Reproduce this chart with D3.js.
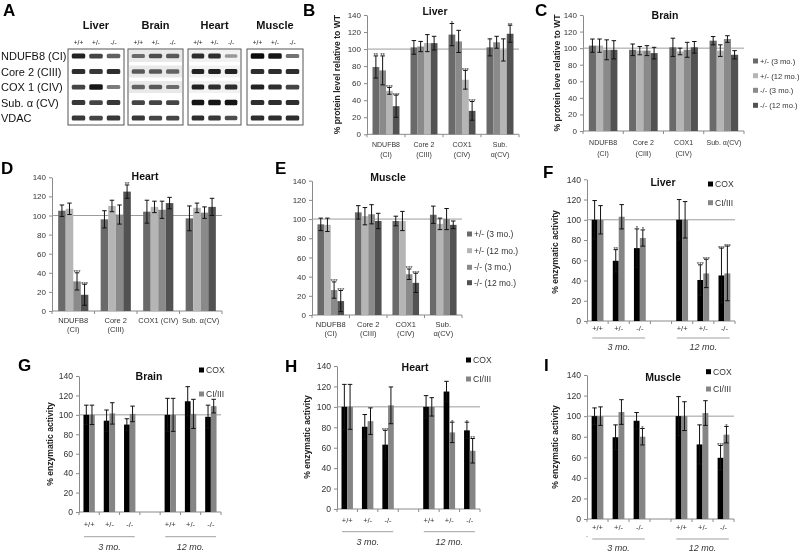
<!DOCTYPE html>
<html><head><meta charset="utf-8">
<script src="https://cdn.jsdelivr.net/npm/d3@7"></script>
<style>
body{margin:0;background:#fff}
svg{display:block;opacity:0.995}
text{font-family:"Liberation Sans",Arial,Helvetica,sans-serif}
</style>
</head><body>
<svg id="c" width="800" height="552"></svg>
<script>
// ---------------- DATA ----------------
const blotTissues = ["Liver", "Brain", "Heart", "Muscle"];
const blotGenotypes = ["+/+", "+/-", "-/-"];
const blotRows = ["NDUFB8 (CI)", "Core 2 (CIII)", "COX 1 (CIV)", "Sub. α (CV)", "VDAC"];
// band darkness per row per lane (0..1)
const blotLiver  = [[0.9,0.75,0.6],[0.85,0.8,0.85],[0.75,0.95,0.45],[0.8,0.75,0.8],[0.8,0.75,0.8]];
const blotBrain  = [[0.55,0.7,0.65],[0.65,0.65,0.6],[0.6,0.65,0.55],[0.75,0.75,0.75],[0.8,0.75,0.75]];
const blotHeart  = [[0.85,0.85,0.3],[0.9,0.9,0.9],[0.9,0.85,0.85],[0.95,0.95,0.95],[0.85,0.8,0.7]];
const blotMuscle = [[1.0,0.95,0.5],[0.85,0.85,0.85],[0.9,0.85,0.75],[0.85,0.85,0.85],[0.85,0.85,0.85]];

const yTicks = [0, 20, 40, 60, 80, 100, 120, 140];
const proteinSeries = ["+/- (3 mo.)", "+/- (12 mo.)", "-/- (3 mo.)", "-/- (12 mo.)"];

// B – Liver protein
const liverCats = [["NDUFB8","(CI)"],["Core 2","(CIII)"],["COX1","(CIV)"],["Sub.","α(CV)"]];
const liverProtein    = [[79,75,51,33],[102,103,107,107],[117,109,64,27.5],[102,108,99,118]];
const liverProteinErr = [[13,17,4,13],[8,6,10,8],[13,13,11,11],[10,7,13,10]];
const liverProteinSig = [["**","**","***","***"],["","","",""],["*","","***","***"],["","","","**"]];
// C – Brain protein
const brainCats = [["NDUFB8","(CI)"],["Core 2","(CIII)"],["COX1","(CIV)"],["Sub. α(CV)"]];
const brainProtein    = [[103,103,98,98],[98,97,97,94],[101,96,98,101],[109,97,111,92]];
const brainProteinErr = [[8,8,12,11],[7,5,6,7],[11,4,9,7],[5,7,4,5]];
// D – Heart protein
const heartCats = [["NDUFB8","(CI)"],["Core 2","(CIII)"],["COX1 (CIV)"],["Sub. α(CV)"]];
const heartProtein    = [[105,107,31,17],[96,110,101,125],[104,109,106,113],[97,108,103,109]];
const heartProteinErr = [[6,6,9,11],[9,6,10,7],[12,6,9,6],[13,5,6,9]];
const heartProteinSig = [["","","***","***"],["","","","**"],["","","",""],["","","",""]];
// E – Muscle protein
const muscleCats = [["NDUFB8","(CI)"],["Core 2","(CIII)"],["COX1","(CIV)"],["Sub.","α(CV)"]];
const muscleProtein    = [[94.5,94,26,14.5],[107,103,105,98],[98,98,42.5,33.5],[104.5,95,100,94]];
const muscleProteinErr = [[6.5,7,8.5,11],[7,9,10,8],[5,10,5.5,10],[9,6,11,4]];
const muscleProteinSig = [["","","***","***"],["","","",""],["","","***","***"],["","","",""]];

// F–I enzymatic activity
const activityGenotypes = ["+/+", "+/-", "-/-"];
const activityAges = ["3 mo.", "12 mo."];
const activitySeries = ["COX", "CI/III"];
// order: 3mo +/+, +/-, -/-, 12mo +/+, +/-, -/-
const liverCOX = [100, 59.5, 72, 100, 40.5, 45];
const liverCOXErr = [19, 11, 19, 20, 15, 27];
const liverCOXSig = ["", "**", "*", "", "***", "***"];
const liverCI = [100, 103, 82, 100, 47, 47];
const liverCIErr = [14, 12, 8, 18, 14, 27];
const liverCISig = ["", "", "*", "", "***", "***"];

const brainCOX = [100, 94, 90, 100, 114, 98];
const brainCOXErr = [10, 11, 6, 17, 15, 12];
const brainCI = [100, 101.5, 101, 100, 101, 109];
const brainCIErr = [10, 11, 8, 17, 15, 7];

const heartCOX = [100, 80.5, 63, 100, 115, 77];
const heartCOXErr = [22, 12, 14, 11, 10, 8];
const heartCOXSig = ["", "", "***", "", "", "*"];
const heartCI = [100, 86, 101.5, 100, 75, 57];
const heartCIErr = [22, 13, 18, 9, 10, 12];
const heartCISig = ["", "", "", "", "*", "**"];

const muscleCOX = [100, 79.5, 95.5, 100, 72.5, 59.5];
const muscleCOXErr = [8, 12, 8, 19, 19, 12];
const muscleCOXSig = ["", "", "", "", "", "***"];
const muscleCI = [100, 104, 80, 100, 103, 82];
const muscleCIErr = [9, 12, 8, 14, 12, 8];
const muscleCISig = ["", "", "*", "", "", "*"];

// ---------------- DRAWING ----------------
const svg = d3.select("#c");
const TXT = "#333";
const AXIS = "#8a8a8a";
const proteinColors = ["#6a6a6a", "#b5b5b5", "#8a8a8a", "#525252"];
const activityColors = ["#000000", "#858585"];

function letter(x, y, t) {
  svg.append("text").attr("x", x).attr("y", y).attr("font-size", 17)
    .attr("font-weight", "bold").attr("fill", "#000").text(t);
}

// ----- Panel A: western blots -----
(function () {
  const blots = [blotLiver, blotBrain, blotHeart, blotMuscle];
  const boxes = [[68,124],[128,183],[188,241],[247,303]];
  const rowBg = [null, "#e9e9e9", "#f2f2f2", null];
  const top = 49, bot = 125;
  const defs = svg.append("defs");
  defs.append("filter").attr("id", "blur").attr("x", "-30%").attr("y", "-80%").attr("width", "160%").attr("height", "260%")
    .append("feGaussianBlur").attr("stdDeviation", 0.7);
  const yRow = d3.scalePoint().domain(d3.range(blotRows.length)).range([56, 118]);
  const g = svg.append("g");
  blotRows.forEach((r, i) => {
    g.append("text").attr("x", 1).attr("y", yRow(i) + 4).attr("font-size", 11).attr("fill", "#111").text(r);
  });
  blotTissues.forEach((t, ti) => {
    const [x0, x1] = boxes[ti];
    const lx = d3.scaleBand().domain(d3.range(3)).range([x0, x1]).paddingOuter(0.1);
    g.append("text").attr("x", (x0 + x1) / 2).attr("y", 29).attr("text-anchor", "middle")
      .attr("font-size", 11).attr("font-weight", "bold").attr("fill", "#111").text(t);
    blotGenotypes.forEach((gt, li) => {
      g.append("text").attr("x", lx(li) + lx.bandwidth() / 2).attr("y", 44.5).attr("text-anchor", "middle")
        .attr("font-size", 6.5).attr("fill", "#222").text(gt);
    });
    g.append("rect").attr("x", x0).attr("y", top).attr("width", x1 - x0).attr("height", bot - top).attr("fill", "#fff");
    if (rowBg[ti]) {
      [0, 1, 2].forEach(ri => g.append("rect").attr("x", x0 + 1).attr("y", yRow(ri) - 6)
        .attr("width", x1 - x0 - 2).attr("height", 12).attr("fill", rowBg[ti]));
    }
    blots[ti].forEach((row, ri) => {
      row.forEach((v, li) => {
        const h = 2.5 + 3 * v;
        g.append("rect").attr("x", lx(li) + 2).attr("y", yRow(ri) - h / 2)
          .attr("width", lx.bandwidth() - 4).attr("height", h).attr("rx", 1.5)
          .attr("fill", d3.interpolateGreys(0.3 + 0.65 * v)).attr("filter", "url(#blur)");
      });
    });
    g.append("rect").attr("x", x0).attr("y", top).attr("width", x1 - x0).attr("height", bot - top)
      .attr("fill", "none").attr("stroke", "#555").attr("stroke-width", 1);
  });
  letter(3, 16, "A");
})();

function yAxis(g, y, x0, font) {
  const ax = g.append("g").attr("transform", `translate(${x0},0)`)
    .call(d3.axisLeft(y).tickValues(yTicks).tickSize(3).tickSizeOuter(0).tickPadding(3));
  ax.select(".domain").attr("stroke", AXIS);
  ax.selectAll(".tick line").attr("stroke", AXIS);
  ax.selectAll(".tick text").attr("font-size", font).attr("fill", TXT)
    .attr("font-family", "'Liberation Sans', Arial, sans-serif");
}

function errBar(g, cx, y, v, e, cap) {
  g.append("line").attr("x1", cx).attr("x2", cx).attr("y1", y(v - e)).attr("y2", y(v + e))
    .attr("stroke", "#111").attr("stroke-width", 1);
  [v - e, v + e].forEach(w => g.append("line").attr("x1", cx - cap / 2).attr("x2", cx + cap / 2)
    .attr("y1", y(w)).attr("y2", y(w)).attr("stroke", "#111").attr("stroke-width", 1));
}

function stars(g, cx, yy, s) {
  if (!s) return;
  g.append("text").attr("x", cx).attr("y", yy + 1.5).attr("text-anchor", "middle")
    .attr("font-size", 6).attr("fill", "#222").text(s);
}

function titleText(g, x, y, t) {
  g.append("text").attr("x", x).attr("y", y + 4).attr("text-anchor", "middle")
    .attr("font-size", 10.5).attr("font-weight", "bold").attr("fill", "#111").text(t);
}

function yLabel(g, x, cy, t) {
  g.append("text").attr("transform", `translate(${x},${cy}) rotate(-90)`).attr("text-anchor", "middle")
    .attr("dy", "0.35em").attr("font-size", 8.6).attr("font-weight", "bold").attr("fill", "#222").text(t);
}

function legend(g, lx, rows, labels, colors, font) {
  labels.forEach((l, i) => {
    g.append("rect").attr("x", lx).attr("y", rows[i] - 2.5).attr("width", 5).attr("height", 5).attr("fill", colors[i]);
    g.append("text").attr("x", lx + 7).attr("y", rows[i] + 3).attr("font-size", font).attr("fill", TXT).text(labels[i]);
  });
}

// ----- Protein panels B–E -----
function proteinPanel(c) {
  const g = svg.append("g");
  const n = c.cats.length;
  const x = d3.scaleBand().domain(d3.range(n)).range([c.x0, c.x1]).paddingInner(0.29).paddingOuter(0.145);
  const xs = d3.scaleBand().domain(d3.range(4)).range([0, x.bandwidth()]);
  const y = d3.scaleLinear().domain([0, 140]).range([c.yBot, c.yTop]);
  g.append("line").attr("x1", c.x0).attr("x2", c.x1).attr("y1", c.yBot).attr("y2", c.yBot).attr("stroke", AXIS);
  d3.range(n + 1).forEach(i => {
    const bx = c.x0 + i * x.step();
    g.append("line").attr("x1", bx).attr("x2", bx).attr("y1", c.yBot).attr("y2", c.yBot + 3).attr("stroke", AXIS);
  });
  yAxis(g, y, c.x0, 8);
  g.append("line").attr("x1", c.x0).attr("x2", c.x1).attr("y1", y(100)).attr("y2", y(100))
    .attr("stroke", "#9c9c9c").attr("stroke-width", 1);
  c.values.forEach((vals, ci) => {
    vals.forEach((v, si) => {
      g.append("rect").attr("x", x(ci) + xs(si)).attr("y", y(v)).attr("width", xs.bandwidth())
        .attr("height", y(0) - y(v)).attr("fill", proteinColors[c.colorOrder[si]]);
    });
  });
  c.values.forEach((vals, ci) => {
    vals.forEach((v, si) => {
      const cx = x(ci) + xs(si) + xs.bandwidth() / 2;
      const e = c.err[ci][si];
      errBar(g, cx, y, v, e, 4.5);
      if (c.sig) stars(g, cx, y(v + e), c.sig[ci][si]);
    });
  });
  c.cats.forEach((lines, ci) => {
    const t = g.append("text").attr("text-anchor", "middle").attr("font-size", c.catFont).attr("fill", TXT);
    lines.forEach((l, li) => t.append("tspan").attr("x", x(ci) + x.bandwidth() / 2)
      .attr("y", c.catY + li * c.catGap).text(l));
  });
  titleText(g, c.titleX, c.titleY, c.title);
  if (c.yLab) yLabel(g, c.yLabX, (c.yTop + c.yBot) / 2, c.yLab);
  if (c.legX) legend(g, c.legX, c.legRows, proteinSeries, proteinColors, c.legFont);
}

proteinPanel({ cats: liverCats, values: liverProtein, err: liverProteinErr, sig: liverProteinSig,
  colorOrder: [0, 2, 1, 3], x0: 367, x1: 519, yTop: 15, yBot: 134.3, catY: 146.5, catGap: 10, catFont: 7,
  title: "Liver", titleX: 435, titleY: 11, yLab: "% protein level relative to WT", yLabX: 337 });
letter(303, 16, "B");

proteinPanel({ cats: brainCats, values: brainProtein, err: brainProteinErr, sig: null,
  colorOrder: [0, 1, 2, 3], x0: 583, x1: 744, yTop: 15, yBot: 131, catY: 144.5, catGap: 11, catFont: 7,
  title: "Brain", titleX: 665, titleY: 15, yLab: "% protein leve relative to WT", yLabX: 557,
  legX: 753, legRows: [61, 75.7, 90.3, 105.3], legFont: 7.6 });
letter(535, 16, "C");

proteinPanel({ cats: heartCats, values: heartProtein, err: heartProteinErr, sig: heartProteinSig,
  colorOrder: [0, 1, 2, 3], x0: 52, x1: 222, yTop: 177.3, yBot: 311, catY: 322.5, catGap: 9, catFont: 7.5,
  title: "Heart", titleX: 145, titleY: 176 });
letter(1, 174, "D");

proteinPanel({ cats: muscleCats, values: muscleProtein, err: muscleProteinErr, sig: muscleProteinSig,
  colorOrder: [0, 1, 2, 3], x0: 312, x1: 462, yTop: 180.7, yBot: 315, catY: 327, catGap: 9, catFont: 7.5,
  title: "Muscle", titleX: 388, titleY: 177, legX: 467, legRows: [234, 250.7, 267.3, 282.7], legFont: 8.5 });
letter(275, 174, "E");

// ----- Activity panels F–I -----
function activityPanel(c) {
  const g = svg.append("g");
  const cats = [];
  activityAges.forEach((a, ai) => {
    activityGenotypes.forEach(gt => cats.push({ age: ai, gt: gt }));
    if (ai === 0) cats.push(null);
  });
  const idx = i => (i < 3 ? i : i + 1);
  const x = d3.scaleBand().domain(d3.range(cats.length)).range([c.x0, c.x1]).paddingInner(0.44).paddingOuter(0.22);
  const xs = d3.scaleBand().domain([0, 1]).range([0, x.bandwidth()]);
  const y = d3.scaleLinear().domain([0, 140]).range([c.yBot, c.yTop]);
  g.append("line").attr("x1", c.x0).attr("x2", c.x1).attr("y1", c.yBot).attr("y2", c.yBot).attr("stroke", AXIS);
  d3.range(cats.length + 1).forEach(i => {
    const bx = c.x0 + i * x.step();
    g.append("line").attr("x1", bx).attr("x2", bx).attr("y1", c.yBot).attr("y2", c.yBot + 3).attr("stroke", AXIS);
  });
  yAxis(g, y, c.x0, 8.6);
  g.append("line").attr("x1", c.x0).attr("x2", c.x1).attr("y1", y(100)).attr("y2", y(100))
    .attr("stroke", "#9c9c9c").attr("stroke-width", 1);
  const series = [[c.cox, c.coxErr, c.coxSig], [c.ci, c.ciErr, c.ciSig]];
  series.forEach(([vals], si) => vals.forEach((v, i) => {
    g.append("rect").attr("x", x(idx(i)) + xs(si)).attr("y", y(v)).attr("width", xs.bandwidth())
      .attr("height", y(0) - y(v)).attr("fill", activityColors[si]);
  }));
  series.forEach(([vals, errs, sig], si) => vals.forEach((v, i) => {
    const cx = x(idx(i)) + xs(si) + xs.bandwidth() / 2;
    errBar(g, cx, y, v, errs[i], 4.5);
    if (sig) stars(g, cx, y(v + errs[i]), sig[i]);
  }));
  cats.forEach((ct, i) => {
    if (!ct) return;
    g.append("text").attr("x", x(i) + x.bandwidth() / 2).attr("y", c.gtY + 2.5).attr("text-anchor", "middle")
      .attr("font-size", 7.5).attr("fill", TXT).text(ct.gt);
  });
  activityAges.forEach((a, ai) => {
    const s = ai * 4, e = s + 3;
    const gx0 = c.x0 + s * x.step() + 0.25 * x.step();
    const gx1 = c.x0 + e * x.step() - 0.25 * x.step();
    g.append("line").attr("x1", gx0).attr("x2", gx1).attr("y1", c.lineY).attr("y2", c.lineY)
      .attr("stroke", "#a0a0a0").attr("stroke-width", 1);
    g.append("text").attr("x", (gx0 + gx1) / 2).attr("y", c.ageY + 3).attr("text-anchor", "middle")
      .attr("font-size", 9).attr("font-style", "italic").attr("fill", TXT).text(a);
  });
  titleText(g, c.titleX, c.titleY, c.title);
  yLabel(g, c.yLabX, c.yLabY, "% enzymatic activity");
  legend(g, c.legX, c.legRows, activitySeries, activityColors, 8.6);
}

activityPanel({ cox: liverCOX, coxErr: liverCOXErr, coxSig: liverCOXSig, ci: liverCI, ciErr: liverCIErr, ciSig: liverCISig,
  x0: 587, x1: 735, yTop: 179.3, yBot: 321, gtY: 328, lineY: 338, ageY: 347,
  title: "Liver", titleX: 663, titleY: 182, yLabX: 555, yLabY: 252, legX: 708, legRows: [184, 202.7] });
letter(543, 178, "F");

activityPanel({ cox: brainCOX, coxErr: brainCOXErr, coxSig: null, ci: brainCI, ciErr: brainCIErr, ciSig: null,
  x0: 79, x1: 221, yTop: 376, yBot: 512, gtY: 524, lineY: 536.7, ageY: 547,
  title: "Brain", titleX: 149, titleY: 376, yLabX: 50, yLabY: 444, legX: 199, legRows: [370, 394] });
letter(18, 371, "G");

activityPanel({ cox: heartCOX, coxErr: heartCOXErr, coxSig: heartCOXSig, ci: heartCI, ciErr: heartCIErr, ciSig: heartCISig,
  x0: 337, x1: 480, yTop: 366, yBot: 509, gtY: 520, lineY: 531.7, ageY: 541.7,
  title: "Heart", titleX: 415, titleY: 367, yLabX: 307, yLabY: 437, legX: 466, legRows: [360, 379] });
letter(285, 372, "H");

activityPanel({ cox: muscleCOX, coxErr: muscleCOXErr, coxSig: muscleCOXSig, ci: muscleCI, ciErr: muscleCIErr, ciSig: muscleCISig,
  x0: 587, x1: 734, yTop: 375, yBot: 519, gtY: 527.7, lineY: 539, ageY: 548,
  title: "Muscle", titleX: 663, titleY: 377, yLabX: 555, yLabY: 447, legX: 706, legRows: [371.7, 389] });
letter(544, 371, "I");
svg.append("text").attr("x", 586).attr("y", 537).attr("font-size", 7).attr("fill", TXT).text(".");
</script>
</body></html>
